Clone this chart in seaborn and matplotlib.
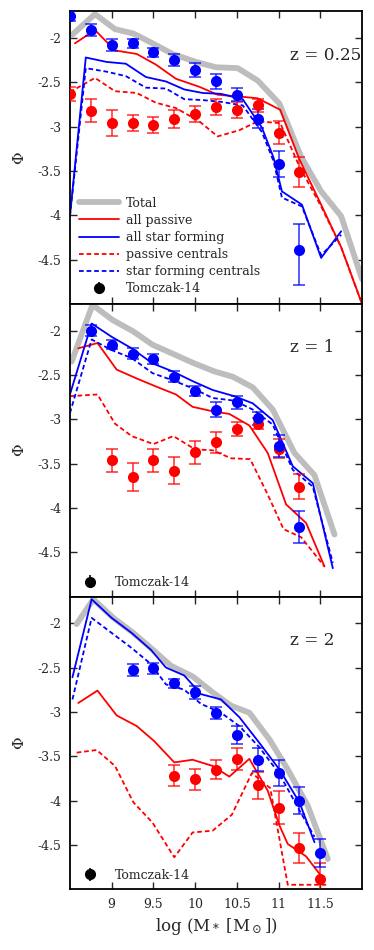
import numpy as np
import matplotlib
matplotlib.use("Agg")
import matplotlib.pyplot as plt
import seaborn as sns
from matplotlib.lines import Line2D
from matplotlib.ticker import FuncFormatter

# ---- data ----
# observed mass bins (Tomczak-14)
obs_m = [8.5, 8.75, 9.0, 9.25, 9.5, 9.75, 10.0, 10.25, 10.5, 10.75, 11.0, 11.25, 11.5]

# z = 0.25
tot_x_025 = [8.52, 8.80, 9.04, 9.26, 9.49, 9.73, 10.01, 10.25, 10.51, 10.75, 11.01, 11.27, 11.51, 11.75, 12.0]
tot_y_025 = [-1.97, -1.73, -1.90, -1.95, -2.06, -2.18, -2.27, -2.33, -2.34, -2.48, -2.74, -3.34, -3.73, -4.01, -4.72]
pas_x_025 = [8.56, 8.80, 9.04, 9.30, 9.53, 9.77, 10.05, 10.27, 10.53, 10.75, 11.02, 11.25, 11.51, 11.75, 12.0]
pas_y_025 = [-2.06, -1.91, -2.14, -2.18, -2.30, -2.46, -2.55, -2.64, -2.66, -2.68, -2.81, -3.37, -3.88, -4.36, -5.0]
pasc_x_025 = [8.5, 8.80, 9.04, 9.30, 9.53, 9.77, 10.05, 10.27, 10.53, 10.75, 11.02, 11.25, 11.51, 11.75, 12.0]
pasc_y_025 = [-2.61, -2.45, -2.60, -2.62, -2.73, -2.79, -2.94, -3.11, -3.04, -2.94, -2.96, -3.45, -3.90, -4.36, -5.0]
blue_x_025 = [8.5, 8.69, 8.94, 9.17, 9.41, 9.65, 9.87, 10.09, 10.31, 10.57, 10.80, 10.94, 11.04, 11.28, 11.51, 11.75]
sf_y_025 = [-4.01, -2.22, -2.27, -2.29, -2.44, -2.49, -2.58, -2.62, -2.63, -2.69, -3.01, -3.35, -3.73, -3.88, -4.48, -4.18]
sfc_y_025 = [-4.01, -2.34, -2.38, -2.43, -2.56, -2.57, -2.69, -2.70, -2.72, -2.76, -3.06, -3.39, -3.80, -3.90, -4.45, -4.22]
obs_sf_y_025 = [-1.75, -1.91, -2.08, -2.06, -2.16, -2.25, -2.36, -2.49, -2.64, -2.91, -3.42, -4.39]
obs_sf_lo_025 = [0.06, 0.065, 0.07, 0.05, 0.05, 0.07, 0.075, 0.08, 0.075, 0.11, 0.15, 0.40]
obs_sf_hi_025 = [0.06, 0.065, 0.07, 0.05, 0.05, 0.07, 0.075, 0.08, 0.075, 0.11, 0.15, 0.29]
obs_pas_y_025 = [-2.63, -2.82, -2.96, -2.96, -2.98, -2.91, -2.86, -2.78, -2.81, -2.76, -3.07, -3.51]
obs_pas_e_025 = [0.08, 0.13, 0.15, 0.09, 0.09, 0.10, 0.09, 0.09, 0.09, 0.07, 0.13, 0.17]

# z = 1
tot_x_1 = [8.52, 8.77, 9.01, 9.26, 9.49, 9.73, 9.99, 10.23, 10.45, 10.69, 10.93, 11.19, 11.43, 11.67]
tot_y_1 = [-2.35, -1.71, -1.88, -2.01, -2.16, -2.26, -2.37, -2.46, -2.52, -2.64, -2.89, -3.38, -3.63, -4.30]
pas_x_1 = [8.60, 8.83, 9.06, 9.30, 9.53, 9.77, 9.97, 10.21, 10.41, 10.65, 10.87, 11.09, 11.33, 11.55]
pas_y_1 = [-2.20, -2.14, -2.44, -2.54, -2.63, -2.72, -2.86, -2.91, -2.94, -3.07, -3.38, -3.96, -4.17, -4.66]
pasc_x_1 = [8.5, 8.83, 9.04, 9.24, 9.50, 9.74, 10.0, 10.21, 10.43, 10.66, 10.86, 11.06, 11.27, 11.55]
pasc_y_1 = [-2.74, -2.72, -3.05, -3.19, -3.28, -3.19, -3.34, -3.35, -3.44, -3.45, -3.83, -4.24, -4.33, -4.66]
blue_x_1 = [8.5, 8.76, 9.0, 9.24, 9.49, 9.73, 9.97, 10.21, 10.47, 10.69, 10.93, 11.17, 11.41, 11.65]
sf_y_1 = [-2.72, -1.92, -2.07, -2.20, -2.37, -2.46, -2.57, -2.67, -2.74, -2.82, -3.01, -3.53, -3.72, -4.68]
sfc_y_1 = [-2.93, -2.10, -2.22, -2.31, -2.48, -2.56, -2.65, -2.76, -2.79, -2.89, -3.06, -3.57, -3.76, -4.62]
obs_sf_y_1 = [-2.00, -2.16, -2.26, -2.32, -2.52, -2.68, -2.89, -2.81, -2.99, -3.30, -4.21]
obs_sf_e_1 = [0.065, 0.05, 0.06, 0.06, 0.065, 0.06, 0.09, 0.07, 0.07, 0.12, 0.18]
obs_pas_y_1 = [-3.46, -3.65, -3.46, -3.58, -3.37, -3.26, -3.11, -3.05, -3.33, -3.76]
obs_pas_e_1 = [0.13, 0.16, 0.13, 0.15, 0.13, 0.12, 0.08, 0.06, 0.11, 0.14]

# z = 2
tot_x_2 = [8.58, 8.78, 9.02, 9.26, 9.47, 9.71, 9.97, 10.21, 10.43, 10.65, 10.89, 11.11, 11.35, 11.59]
tot_y_2 = [-2.01, -1.73, -1.94, -2.11, -2.28, -2.48, -2.60, -2.78, -2.93, -3.01, -3.31, -3.65, -4.06, -4.66]
pas_x_2 = [8.60, 8.83, 9.06, 9.30, 9.51, 9.75, 9.97, 10.21, 10.41, 10.65, 10.87, 11.01, 11.11, 11.33, 11.55]
pas_y_2 = [-2.90, -2.76, -3.04, -3.16, -3.33, -3.57, -3.54, -3.61, -3.73, -3.53, -3.89, -4.28, -4.49, -4.63, -4.90]
pasc_x_2 = [8.58, 8.82, 9.04, 9.26, 9.49, 9.75, 9.97, 10.21, 10.44, 10.68, 10.90, 11.11, 11.33, 11.57]
pasc_y_2 = [-3.46, -3.43, -3.61, -4.02, -4.25, -4.64, -4.36, -4.34, -4.16, -3.69, -3.86, -4.95, -4.95, -4.95]
blue_x_2 = [8.53, 8.76, 9.0, 9.24, 9.47, 9.65, 9.87, 10.07, 10.31, 10.53, 10.77, 11.01, 11.25, 11.43]
sf_y_2 = [-2.61, -1.73, -1.94, -2.11, -2.30, -2.50, -2.59, -2.80, -2.86, -3.06, -3.35, -3.65, -4.02, -4.47]
sfc_y_2 = [-2.86, -1.94, -2.11, -2.28, -2.46, -2.69, -2.75, -2.91, -3.01, -3.16, -3.40, -3.70, -4.11, -4.41]
obs_sf_y_2 = [-2.53, -2.51, -2.68, -2.78, -3.01, -3.26, -3.54, -3.69, -4.00, -4.59]
obs_sf_e_2 = [0.07, 0.06, 0.055, 0.07, 0.07, 0.10, 0.13, 0.15, 0.15, 0.16]
obs_pas_y_2 = [-3.72, -3.76, -3.65, -3.53, -3.83, -4.08, -4.54, -4.88]
obs_pas_e_2 = [0.12, 0.12, 0.11, 0.12, 0.15, 0.19, 0.17, 0.18]

z_labels = ["z = 0.25", "z = 1", "z = 2"]

# ---- style ----
sns.set_style("ticks")
plt.rcParams["font.family"] = ["DejaVu Serif"]
plt.rcParams["mathtext.fontset"] = "dejavuserif"
plt.rcParams["axes.unicode_minus"] = False

GRAY = "#bdbdbd"
RED = "#ff0000"
BLUE = "#0000ff"
LW = 1.3
DASH = (0, (2.6, 1.6))

fig, axes = plt.subplots(3, 1, figsize=(3.74, 9.5), dpi=100, sharex=True)
fig.subplots_adjust(left=0.187, right=0.968, top=0.988, bottom=0.064, hspace=0)


def draw_lines(ax, tx, ty, px, py, pcx, pcy, bx, by, bcy):
    sns.lineplot(x=tx, y=ty, ax=ax, color=GRAY, lw=4.2, sort=False, estimator=None)
    sns.lineplot(x=px, y=py, ax=ax, color=RED, lw=LW, sort=False, estimator=None)
    sns.lineplot(x=bx, y=by, ax=ax, color=BLUE, lw=LW, sort=False, estimator=None)
    sns.lineplot(x=pcx, y=pcy, ax=ax, color=RED, lw=LW, ls=DASH, sort=False, estimator=None)
    sns.lineplot(x=bx, y=bcy, ax=ax, color=BLUE, lw=LW, ls=DASH, sort=False, estimator=None)


def draw_obs(ax, xr, yr, er, xb, yb, eb):
    for x, y, e, c in [(xr, yr, er, RED), (xb, yb, eb, BLUE)]:
        ax.errorbar(x, y, yerr=e, fmt="none", ecolor=c, alpha=0.65, elinewidth=1.4,
                    capsize=4, capthick=1.4, zorder=4)
        sns.scatterplot(x=x, y=y, ax=ax, color=c, s=64, edgecolor=c, linewidth=0, zorder=5)


# panel z = 0.25
ax = axes[0]
draw_lines(ax, tot_x_025, tot_y_025, pas_x_025, pas_y_025, pasc_x_025, pasc_y_025,
           blue_x_025, sf_y_025, sfc_y_025)
draw_obs(ax, obs_m[:12], obs_pas_y_025, obs_pas_e_025,
         obs_m[:12], obs_sf_y_025, [obs_sf_lo_025, obs_sf_hi_025])

# panel z = 1
ax = axes[1]
draw_lines(ax, tot_x_1, tot_y_1, pas_x_1, pas_y_1, pasc_x_1, pasc_y_1,
           blue_x_1, sf_y_1, sfc_y_1)
draw_obs(ax, obs_m[2:12], obs_pas_y_1, obs_pas_e_1, obs_m[1:12], obs_sf_y_1, obs_sf_e_1)

# panel z = 2
ax = axes[2]
draw_lines(ax, tot_x_2, tot_y_2, pas_x_2, pas_y_2, pasc_x_2, pasc_y_2,
           blue_x_2, sf_y_2, sfc_y_2)
draw_obs(ax, obs_m[5:], obs_pas_y_2, obs_pas_e_2, obs_m[3:], obs_sf_y_2, obs_sf_e_2)

fmt = FuncFormatter(lambda v, p: "%g" % v)
for i, ax in enumerate(axes):
    ax.set_xlim(8.5, 12.0)
    ax.set_ylim(-5.0, -1.7)
    ax.set_yticks([-2, -2.5, -3, -3.5, -4, -4.5])
    ax.set_xticks([9, 9.5, 10, 10.5, 11, 11.5])
    ax.yaxis.set_major_formatter(fmt)
    ax.xaxis.set_major_formatter(fmt)
    ax.tick_params(direction="in", top=True, right=True, length=5, width=1,
                   labelsize=9, pad=6)
    for s in ax.spines.values():
        s.set_linewidth(1.3)
        s.set_color("black")
    ax.set_ylabel(r"$\Phi$", fontsize=11, labelpad=8)
    ax.set_xlabel("")
    ax.text(0.753, 0.85, z_labels[i], transform=ax.transAxes, fontsize=12.2,
            ha="left", va="center")
    tom = ax.errorbar([], [], yerr=[], fmt="o", color="black", ms=7, capsize=3.5,
                      elinewidth=1.2, label="Tomczak-14")
    if i == 0:
        handles = [
            Line2D([], [], color=GRAY, lw=4.2),
            Line2D([], [], color=RED, lw=LW),
            Line2D([], [], color=BLUE, lw=LW),
            Line2D([], [], color=RED, lw=LW, ls=DASH),
            Line2D([], [], color=BLUE, lw=LW, ls=DASH),
            tom,
        ]
        labels = ["Total", "all passive", "all star forming", "passive centrals",
                  "star forming centrals", "Tomczak-14"]
        ax.legend(handles, labels, loc="lower left", frameon=False, fontsize=9,
                  handlelength=3.2, labelspacing=0.33, borderaxespad=0.3,
                  handletextpad=0.6)
    else:
        ax.legend([tom], ["Tomczak-14"], loc="lower left", frameon=False, fontsize=9,
                  handlelength=2.0, borderaxespad=0.2, handletextpad=1.0)

axes[2].set_xlabel(r"log (M$_*$ [M$_\odot$])", fontsize=12)

fig.savefig("out.png", dpi=100)
